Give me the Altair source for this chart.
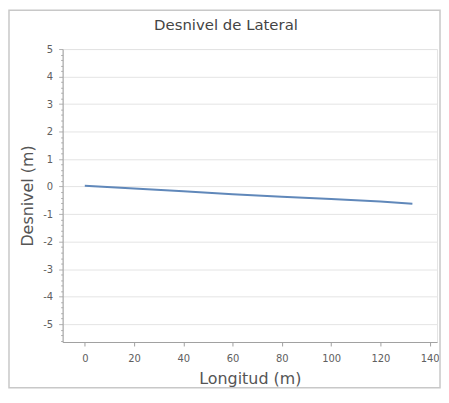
import altair as alt
import pandas as pd

# values
longitud = [0, 20, 40, 60, 80, 100, 120, 133]
desnivel = [0.03, -0.07, -0.17, -0.28, -0.37, -0.45, -0.54, -0.62]

x_ticks = [0, 20, 40, 60, 80, 100, 120, 140]
# minor ticks on the y axis (every 0.2), integers get labels and grid
y_minor = [round(-5.6 + 0.2 * i, 1) for i in range(54)]

df = pd.DataFrame({"longitud": longitud, "desnivel": desnivel})

W, H = 377, 295
PL, PT, PR, PB = 55, 40, 4, 47
font = "DejaVu Sans"
is_int = "abs(datum.value - round(datum.value)) < 0.01"

# gray frame around the whole chart
frame = alt.Chart(pd.DataFrame({"k": [0]})).mark_rect(
    fillOpacity=0, stroke="#c8c8c8", strokeWidth=1.5
).encode(
    x=alt.value(-PL + 1), x2=alt.value(W + PR - 1),
    y=alt.value(-PT + 1), y2=alt.value(H + PB - 1),
)

line = alt.Chart(df).mark_line(color="#6088ba", strokeWidth=2).encode(
    x=alt.X(
        "longitud:Q",
        scale=alt.Scale(domain=[-9, 143], nice=False, zero=False),
        axis=alt.Axis(
            values=x_ticks, title="Longitud (m)", grid=False,
            domainColor="#a0a0a0", tickColor="#a0a0a0", tickSize=4,
            labelColor="#606060", labelFontSize=10, labelPadding=8,
            labelFlush=False,
            titleColor="#555555", titleFontSize=16, titleFontWeight="normal",
            titlePadding=7,
        ),
    ),
    y=alt.Y(
        "desnivel:Q",
        scale=alt.Scale(domain=[-5.65, 5], nice=False, zero=False),
        axis=alt.Axis(
            values=y_minor, title="Desnivel (m)",
            labelExpr=f"{is_int} ? '' + round(datum.value) : ''",
            gridColor="#e4e4e4",
            gridOpacity={"condition": {"test": is_int, "value": 1}, "value": 0},
            domainColor="#a0a0a0", tickColor="#b0b0b0",
            tickSize={"condition": {"test": is_int, "value": 4}, "value": 2},
            labelColor="#606060", labelFontSize=10, labelPadding=6,
            titleColor="#555555", titleFontSize=16, titleFontWeight="normal",
            titlePadding=7,
        ),
    ),
)

chart = alt.layer(frame, line).properties(
    width=W, height=H,
    padding={"left": PL, "top": PT, "right": PR, "bottom": PB},
    autosize=alt.AutoSizeParams(type="none"),
    title=alt.TitleParams(
        "Desnivel de Lateral", fontSize=15, fontWeight="normal",
        color="#444444", font=font, frame="group", offset=15, dx=-24,
        dy=PT - 1,
    ),
).configure(font=font).configure_view(stroke="#e4e4e4")

chart.save("out.html", embed_options={"renderer": "svg", "actions": False})
